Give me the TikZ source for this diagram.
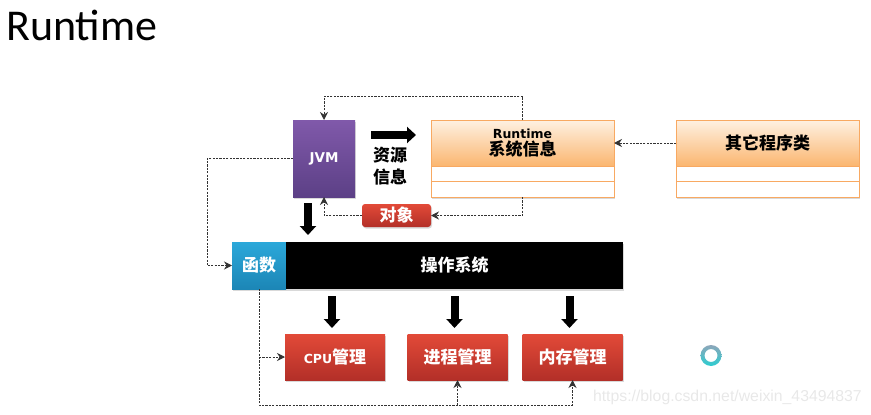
\documentclass[tikz,border=0pt]{standalone}
\usepackage{fontspec}
\setmainfont{Carlito}
\newfontfamily\latfont{DejaVu Sans}
\newfontfamily\markfont{Liberation Sans}
\newfontfamily\cjk{Noto Sans CJK SC}
\usetikzlibrary{arrows.meta}
\usetikzlibrary{positioning}
\usetikzlibrary{shadows}

\definecolor{jvmtop}{HTML}{8059AA}
\definecolor{jvmbot}{HTML}{5C4086}
\definecolor{redtop}{HTML}{E24A38}
\definecolor{redbot}{HTML}{B32F28}
\definecolor{bluetop}{HTML}{2BA8DA}
\definecolor{bluebot}{HTML}{1C86B6}
\definecolor{oratop}{HTML}{FEF1E2}
\definecolor{orabot}{HTML}{FBB670}
\definecolor{oraline}{HTML}{F8A962}
\definecolor{ringtop}{HTML}{8DA6BA}
\definecolor{ringbot}{HTML}{2CCDD0}

\tikzset{
    boxshadow/.style={drop shadow={shadow xshift=1pt,shadow yshift=-1.5pt,opacity=0.3}},
    basebox/.style={inner sep=0pt,outer sep=0pt,align=center,font=\cjk\bfseries\fontsize{17}{19}\selectfont,boxshadow},
    redbox/.style={basebox,top color=redtop,bottom color=redbot,text=white,minimum width=100pt,minimum height=46pt},
    classhead/.style={basebox,draw=oraline,line width=1pt,top color=oratop,bottom color=orabot,text=black,minimum width=183pt,minimum height=46pt},
    classrow/.style={basebox,draw=oraline,line width=1pt,fill=white,minimum width=183pt,minimum height=15.5pt},
    dashline/.style={draw=black!80,line width=1pt,dash pattern=on 2.2pt off 1.2pt,-{Stealth[length=8pt,width=8pt]}},
    bigarrow/.style={line width=8pt,-{Triangle[width=16pt,length=9pt]}},
}

\begin{document}
\begin{tikzpicture}[x=1pt,y=-1pt]
    \useasboundingbox (0,0) rectangle (871,415);

    \node[anchor=west,font=\fontsize{44}{50}\selectfont,inner sep=0pt] (title) at (6,25) {Runt{}ime};

    % upper row
    \node[basebox,top color=jvmtop,bottom color=jvmbot,text=white,minimum width=62pt,minimum height=77pt,
        font=\latfont\bfseries\fontsize{13.5}{16}\selectfont] (jvm) at (324,158.5) {JVM};
    \node[classhead,anchor=north west] (runtime) at (431,120) {{\latfont\fontsize{12.5}{14}\selectfont Runtime}\\[-2pt]系统信息};
    \node[classrow,below=0pt of runtime] (runtimeA) {};
    \node[classrow,below=0pt of runtimeA] (runtimeB) {};
    \node[classhead,anchor=north west] (other) at (676,120) {其它程序类};
    \node[classrow,below=0pt of other] (otherA) {};
    \node[classrow,below=0pt of otherA] (otherB) {};
    \node[basebox,rounded corners=3pt,top color=redtop,bottom color=redbot,text=white,minimum width=69pt,minimum height=23pt] (obj) at (396.5,215.5) {对象};
    \node[align=center,inner sep=0pt,font=\cjk\bfseries\fontsize{17}{22}\selectfont] (res) at (390,166) {资源\\信息};

    % operating system bar
    \node[basebox,top color=bluetop,bottom color=bluebot,text=white,anchor=north west,minimum width=54pt,minimum height=47pt] (func) at (232,242) {函数};
    \node[basebox,fill=black,text=white,right=0pt of func,minimum width=337pt,minimum height=47pt] (os) {操作系统};

    % managers
    \node[redbox] (cpu) at (335,357) {{\latfont\fontsize{12.5}{14}\selectfont CPU}管理};
    \node[redbox] (proc) at (457.5,357) {进程管理};
    \node[redbox] (mem) at (572.5,357) {内存管理};

    % thick arrows
    \draw[bigarrow,shorten <=16pt,shorten >=15pt] ([yshift=23.5pt]jvm.east) -- ([yshift=8pt]runtime.west);
    \draw[bigarrow,shorten <=6pt,shorten >=7pt] ([xshift=-16pt]jvm.south) -- ([xshift=-16pt]jvm.south |- os.north);
    \foreach \mgr in {cpu,proc,mem} {
        \draw[bigarrow,shorten <=7pt,shorten >=6pt] ([xshift=-3pt]\mgr.north |- os.south) -- ([xshift=-3pt]\mgr.north);
    }

    % dashed call paths
    \coordinate (topBus) at (324,96);
    \coordinate (leftBus) at (207,210);
    \coordinate (bottomBus) at (259,405);
    \draw[dashline] (runtime.north) |- (topBus) -- (jvm.north);
    \draw[dashline] (runtimeB.south) |- (obj.east);
    \draw[dashline] (obj.west) -| (jvm.south);
    \draw[dashline] (other.west) -- (runtime.east);
    \draw[dashline] (jvm.west) -| (leftBus) |- (func.west);
    \draw[dashline] (func.south) -- (bottomBus) -| (mem.south);
    \draw[dashline] (bottomBus -| proc.south) -- (proc.south);
    \draw[dashline] (func.south |- cpu.west) -- (cpu.west);

    % busy ring
    \path[even odd rule,top color=ringtop,bottom color=ringbot] (711,355.5) circle (10.5pt) (711,355.5) circle (6.5pt);

    \node[anchor=east,inner sep=0pt,text=black!9,font=\markfont\fontsize{15.8}{18}\selectfont] (mark) at (862,397) {https://blog.csdn.net/weixin\_43494837};
\end{tikzpicture}
\end{document}
